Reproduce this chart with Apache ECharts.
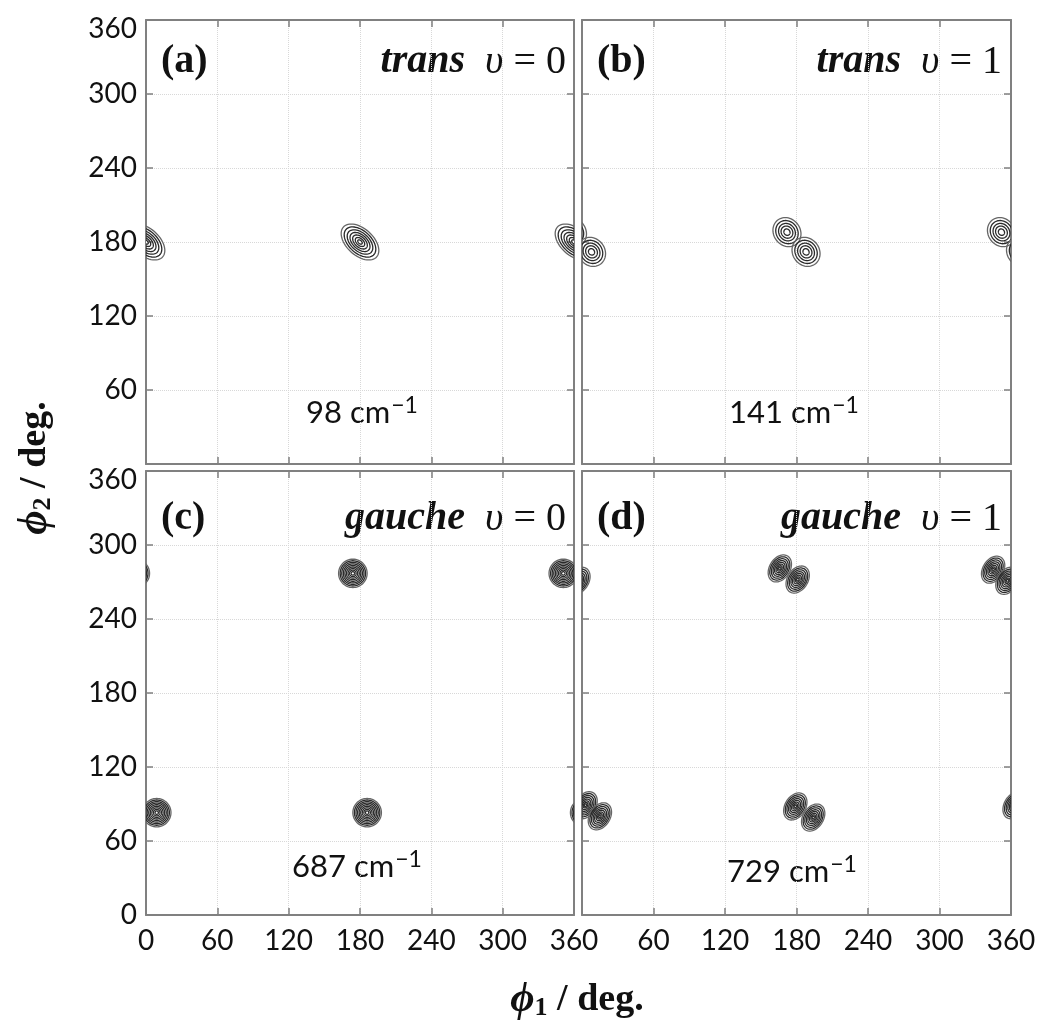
<!DOCTYPE html>
<html>
<head>
<meta charset="utf-8">
<script src="https://cdn.jsdelivr.net/npm/echarts@6/dist/echarts.min.js"></script>
<style>
html, body { margin: 0; padding: 0; background: #fff; }
#main { width: 1045px; height: 1026px; }
</style>
</head>
<body>
<div id="main"></div>
<script>
// contour centres (phi1, phi2) in degrees, one list per panel
var transV0 = [[0, 180], [180, 180], [360, 180]];
var transV1 = [[-8, 188], [8, 172], [172, 188], [188, 172], [352, 188], [368, 172]];
var gaucheV0 = [[-9, 277], [174, 277], [351, 277], [9, 83], [186, 83], [369, 83]];
var gaucheV1 = [[-15, 280], [-3, 271], [166, 281], [181, 272], [345, 280], [357, 271],
                [3, 89], [15, 80], [179, 88], [194, 79], [363, 89], [375, 80]];

// outer contour: half axes (deg) and tilt (deg)
var shapeTransV0 = [18.5, 11, -40];
var shapeTransV1 = [12.5, 11, -45];
var shapeGaucheV0 = [12, 11.5, 0];
var shapeGaucheV1 = [12, 8.5, 55];

// contour levels as a fraction of the outer contour
var levelsTransV0 = [1, 0.84, 0.68, 0.53, 0.39, 0.25, 0.12];
var levelsTransV1 = [1, 0.8, 0.6, 0.42, 0.22];
var levelsGaucheV0 = [1, 0.89, 0.78, 0.67, 0.56, 0.45, 0.34, 0.23, 0.12];
var levelsGaucheV1 = [1, 0.86, 0.72, 0.58, 0.45, 0.32, 0.2, 0.1];

var tickValues = [0, 60, 120, 180, 240, 300, 360];
var panelTags = ['(a)', '(b)', '(c)', '(d)'];
var panelConf = ['trans', 'trans', 'gauche', 'gauche'];
var panelV = ['0', '1', '0', '1'];
var energies = ['98', '141', '687', '729'];

var SERIF = '"Liberation Serif", "Times New Roman", serif';
var SANS = 'Lato, "Open Sans", sans-serif';

var grids = [
  { left: 146, top: 20, width: 428, height: 444 },
  { left: 582, top: 20, width: 429, height: 444 },
  { left: 146, top: 471, width: 428, height: 444 },
  { left: 582, top: 471, width: 429, height: 444 }
];

function blobRenderer(shape, levels) {
  return function (params, api) {
    var cx = api.value(0), cy = api.value(1);
    var th = shape[2] * Math.PI / 180;
    var children = levels.map(function (f, i) {
      var pts = [];
      for (var k = 0; k < 60; k++) {
        var t = k / 60 * 2 * Math.PI;
        var u = shape[0] * f * Math.cos(t), v = shape[1] * f * Math.sin(t);
        pts.push(api.coord([cx + u * Math.cos(th) - v * Math.sin(th),
                            cy + u * Math.sin(th) + v * Math.cos(th)]));
      }
      return {
        type: 'polygon',
        shape: { points: pts },
        style: {
          fill: i === levels.length - 1 ? '#fff' : 'none',
          stroke: i === 0 ? '#666' : '#2a2a2a',
          lineWidth: 1.3
        }
      };
    });
    return { type: 'group', children: children };
  };
}

var xAxes = [], yAxes = [], series = [];
var blobSets = [transV0, transV1, gaucheV0, gaucheV1];
var shapes = [shapeTransV0, shapeTransV1, shapeGaucheV0, shapeGaucheV1];
var levels = [levelsTransV0, levelsTransV1, levelsGaucheV0, levelsGaucheV1];

var lineStyle = { color: '#808080', width: 2 };
var tickStyle = { inside: true, length: 7, lineStyle: { color: '#808080', width: 1.5 } };
var gridLine = { show: true, lineStyle: { color: '#d8d8d8', type: 'dotted', width: 1 } };

grids.forEach(function (g, i) {
  var bottomRow = i >= 2, leftCol = i % 2 === 0;
  xAxes.push({
    gridIndex: i, type: 'value', position: 'bottom', min: 0, max: 360, interval: 60,
    axisLine: { show: true, onZero: false, lineStyle: lineStyle },
    axisTick: tickStyle,
    splitLine: gridLine,
    axisLabel: {
      show: bottomRow, margin: 12, color: '#111', fontFamily: SANS, fontSize: 28,
      formatter: function (v) {
        if (v === 0 && !leftCol) return '';
        return String(v);
      }
    }
  });
  xAxes.push({
    gridIndex: i, type: 'value', position: 'top', min: 0, max: 360, interval: 60,
    axisLine: { show: true, onZero: false, lineStyle: lineStyle },
    axisTick: tickStyle, splitLine: { show: false }, axisLabel: { show: false }
  });
  yAxes.push({
    gridIndex: i, type: 'value', position: 'left', min: 0, max: 360, interval: 60,
    axisLine: { show: true, onZero: false, lineStyle: lineStyle },
    axisTick: tickStyle,
    splitLine: gridLine,
    axisLabel: {
      show: leftCol, margin: 9, color: '#111', fontFamily: SANS, fontSize: 28,
      formatter: function (v) {
        if (v === 0 && !bottomRow) return '';
        if (v === 360) return '{t|' + v + '}';
        return String(v);
      },
      rich: { t: { color: '#111', fontFamily: SANS, fontSize: 28, padding: [18, 0, 0, 0] } }
    }
  });
  yAxes.push({
    gridIndex: i, type: 'value', position: 'right', min: 0, max: 360, interval: 60,
    axisLine: { show: true, onZero: false, lineStyle: lineStyle },
    axisTick: tickStyle, splitLine: { show: false }, axisLabel: { show: false }
  });
  series.push({
    type: 'custom', xAxisIndex: i * 2, yAxisIndex: i * 2, clip: true,
    renderItem: blobRenderer(shapes[i], levels[i]),
    data: blobSets[i], silent: true
  });
});

var graphics = [];
var tagPos = [[161, 62], [597, 62], [161, 519], [597, 519]];
var confRight = [566, 1002, 566, 1002];
var energyPos = [[362, 413], [794, 413], [357, 867], [792, 872]];
grids.forEach(function (g, i) {
  graphics.push({
    type: 'text', x: tagPos[i][0], y: tagPos[i][1],
    style: { text: panelTags[i], font: 'bold 40px ' + SERIF, fill: '#111',
             align: 'left', verticalAlign: 'middle', textAlign: 'left', textVerticalAlign: 'middle' }
  });
  graphics.push({
    type: 'text', x: confRight[i], y: tagPos[i][1],
    style: {
      text: '{c|' + panelConf[i] + '}{u|  \u03c5}{v| = ' + panelV[i] + '}',
      align: 'right', verticalAlign: 'middle', textAlign: 'right', textVerticalAlign: 'middle',
      rich: {
        c: { font: 'italic bold 40px ' + SERIF, fill: '#111' },
        u: { font: 'italic 40px ' + SERIF, fill: '#111' },
        v: { font: '40px ' + SERIF, fill: '#111' }
      }
    }
  });
  graphics.push({
    type: 'text', x: energyPos[i][0], y: energyPos[i][1],
    style: {
      text: '{n|' + energies[i] + ' cm}{s|\u22121}',
      align: 'center', verticalAlign: 'middle', textAlign: 'center', textVerticalAlign: 'middle',
      rich: {
        n: { font: '31px ' + SANS, fill: '#111' },
        s: { font: '23px ' + SANS, fill: '#111', padding: [0, 0, 14, 1] }
      }
    }
  });
});

function axisTitle(sub) {
  return {
    text: '{p|\u03d5}{s|' + sub + '}{d| / deg.}',
    align: 'center', verticalAlign: 'middle', textAlign: 'center', textVerticalAlign: 'middle',
    rich: {
      p: { font: 'italic bold 42px ' + SERIF, fill: '#111' },
      s: { font: 'bold 26px ' + SERIF, fill: '#111', padding: [16, 0, 0, 0] },
      d: { font: 'bold 38px ' + SERIF, fill: '#111' }
    }
  };
}
graphics.push({ type: 'text', x: 577, y: 1000, style: axisTitle('1') });
graphics.push({ type: 'text', x: 35, y: 468, rotation: Math.PI / 2, style: axisTitle('2') });

var chart = echarts.init(document.getElementById('main'));
chart.setOption({
  animation: false,
  backgroundColor: '#fff',
  grid: grids,
  xAxis: xAxes,
  yAxis: yAxes,
  series: series,
  graphic: graphics
});
</script>
</body>
</html>
